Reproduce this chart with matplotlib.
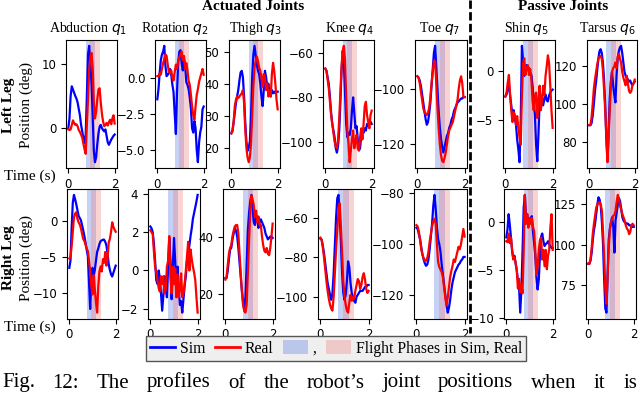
import numpy as np
import matplotlib.pyplot as plt
from matplotlib.lines import Line2D
from matplotlib.patches import Patch

# time axis shared by all profiles (s)
t = np.linspace(0, 2, 41)

# flight phases (s)
sim_flight = (0.75, 1.17)
real_flight = (0.95, 1.38)

titles = ['Abduction $q_1$', 'Rotation $q_2$', 'Thigh $q_3$', 'Knee $q_4$',
          'Toe $q_7$', 'Shin $q_5$', 'Tarsus $q_6$']
row_names = ['Left Leg', 'Right Leg']

# ---- left leg (deg) ----
abd_l_sim = [0, 1.5, 5.0, 6.5, 6.0, 5.5, 5.0, 4.6, 4.0, 3.0,
             2.0, 0.5, -0.5, -1.5, -2.3, -1.0, 5.0, 11.5, 12.8, 10.0,
             7.0, 2.0, -3.5, -5.3, -4.5, -2.5, -0.8, 0.2, 0.5, 0.0,
             -0.3, -0.5, -0.2, -1.2, -2.2, -2.6, -2.2, -1.8, -1.5, -1.2, -1.0]
abd_l_real = [-0.2, -0.3, -0.2, 0.5, 1.2, 0.8, 0.5, 0.6, 0.3, -0.3,
              -0.6, -1.0, -1.5, -2.4, -3.3, -4.0, 0.5, 4.5, 9.0, 11.0,
              11.7, 9.5, 4.0, 1.5, 2.5, 4.5, 6.0, 6.2, 4.0, 2.2,
              1.0, 0.3, 0.5, 0.8, 0.4, 0.9, 1.3, 0.6, 1.5, 2.0, 0.7]
rot_l_sim = [-1.5, -0.8, 0.3, 1.2, 1.6, 1.8, 2.2, 0.8, 0.1, 0.2,
             0.3, 0.6, 0.2, -0.5, -1.0, -2.5, -3.9, -1.0, 1.0, 1.8,
             1.9, 1.0, 0.5, 1.3, 0.8, -0.3, -0.5, -0.8, -1.4, -2.2,
             -3.5, -3.8, -3.0, -3.5, -5.0, -5.85, -4.5, -3.8, -3.4, -2.2, -2.0]
rot_l_real = [0.1, 0.1, 0.3, 0.2, 0.6, 1.0, 1.3, 1.6, 1.5, 0.9,
              0.4, 0.3, 0.5, 0.0, -0.2, 0.4, 0.9, 0.6, 1.2, 1.4,
              1.6, 1.8, 1.2, 1.5, 0.6, 1.0, 0.5, -0.2, -0.5, -1.2,
              -2.0, -2.6, -2.9, -2.0, -1.2, -0.8, -0.3, 0.0, 0.3, 0.6, 0.2]
thigh_l_sim = [24.5, 25.5, 28, 31, 34, 36, 38, 41, 43.5, 44,
               42, 36, 28, 22, 19, 20, 22, 30, 42, 49,
               51.8, 49, 46, 44, 43, 40, 36, 33, 38, 44,
               42, 39, 40, 37, 36, 38, 37, 37.5, 37, 37.5, 37.5]
thigh_l_real = [24.5, 25, 28, 33, 35, 36, 35.5, 36, 36.5, 37,
                38, 34, 26, 20, 17, 15.5, 17, 21, 30, 39,
                45, 47, 48.5, 47, 45, 44, 42, 39, 43, 42,
                38, 40, 36, 38, 36, 43, 46.5, 44, 40, 35, 32]
knee_l_sim = [-67, -68, -71, -74, -80, -87, -92, -95, -98, -103,
              -105, -102, -95, -82, -68, -59, -64, -78, -92, -98,
              -96, -97, -94, -86, -80, -87, -94, -93, -99, -104,
              -103, -97, -95, -96, -94, -95, -92, -93, -92, -91, -92]
knee_l_real = [-67, -68, -72, -76, -82, -88, -92, -96, -100, -102,
               -103, -99, -90, -78, -66, -59, -56.7, -63, -80, -95,
               -101, -109.3, -104, -99, -95, -103, -100, -97, -103, -104,
               -98, -94, -99, -92, -84, -82, -88, -91, -94, -88, -86]
toe_l_sim = [-95.5, -96, -97, -99, -102, -105, -108, -111, -113, -112,
             -109, -105, -99, -93, -87, -84.5, -92, -100, -108, -114,
             -118, -121, -123, -121, -119, -117, -116, -114, -113, -111,
             -110, -108, -107, -106, -105, -104.5, -104, -103.5, -103.5, -103, -103]
toe_l_real = [-95.5, -96, -98, -101, -104, -107, -108.5, -109, -109.5, -108.5,
              -107, -103, -98, -94, -90, -90, -98, -107, -114, -120,
              -124, -126, -126.5, -125, -123, -120, -117, -115, -114, -113,
              -112, -110, -108, -106, -104, -100, -97, -95.5, -98, -103, -103]
shin_l_sim = [-2.6, -2.4, -1.8, -1.4, -2.5, -3.5, -4.6, -4.0, -4.8, -5.5,
              -7.0, -8.0, -9.3, -5.0, 2.57, 1.0, -0.5, 0.2, 0.6, 0.2,
              0.3, -0.2, -0.4, -1.5, -3.0, -4.5, -7.5, -9.2, -6.5, -3.2,
              -2.5, -2.8, -3.5, -2.8, -2.4, -3.0, -3.1, -2.5, -2.2, -2.0, -1.9]
shin_l_real = [-2.6, -2.2, -1.2, -0.4, -2.4, -4.0, -5.2, -4.2, -4.5, -5.5,
               -4.6, -5.8, -6.8, -7.5, -2.5, 0.8, 1.3, -0.4, 0.3, 0.6,
               -0.4, 0.2, -0.8, -3.0, -4.0, -2.5, -2.2, -4.8, -3.0, -1.5,
               -4.0, -3.0, -1.5, -2.5, -0.5, 0.5, 1.6, 0.8, -1.5, -4.0, -5.8]
tarsus_l_sim = [89, 89, 90, 94, 100, 107, 112, 118, 124, 128,
                129, 127, 122, 113, 100, 82, 70, 85, 103, 112,
                117, 110, 105, 101, 115, 124, 128, 130, 130.8, 127,
                122, 117, 115, 114, 113, 112, 112.5, 111, 110, 111, 112]
tarsus_l_real = [89, 89, 93, 100, 108, 113, 117, 121, 124, 125,
                 125.5, 124, 118, 108, 97, 84, 69.5, 82, 97, 110,
                 117, 119, 120, 122, 119, 125, 126.5, 124, 122, 117,
                 114, 112, 110, 115, 111, 107, 106, 107, 110, 111, 113]

# ---- right leg (deg) ----
abd_r_sim = [-6.5, -5.5, -1.0, 2.5, 3.6, 3.0, 2.3, 1.5, 0.7, 0.4,
             0.1, -0.6, -1.3, -2.1, -3.0, -4.0, -4.9, -8.5, -12.2, -8.0,
             -6.5, -7.5, -6.8, -5.5, -4.3, -3.8, -3.2, -2.8, -2.7, -2.6,
             -2.6, -2.9, -3.4, -4.5, -6.0, -6.8, -7.4, -7.7, -7.2, -6.7, -6.2]
abd_r_real = [-5.2, -5.0, -3.5, -1.5, 0.5, 1.0, 1.2, 0.3, -0.2, -0.5,
              -1.0, -1.8, -2.5, -2.8, -3.3, -3.8, -4.2, -5.5, -7.0, -9.0,
              -10.2, -7.5, -9.5, -11.3, -12.7, -9.0, -7.0, -6.3, -7.0, -5.3,
              -5.8, -4.3, -6.2, -5.2, -3.0, -2.5, -1.5, -0.2, -0.8, -1.2, -1.5]
rot_r_sim = [2.3, 2.2, 2.0, 1.4, 0.5, -0.5, -0.7, 0.0, -0.4, -1.2,
             -2.1, -1.3, -0.3, -0.8, -1.4, 0.2, 1.7, 0.5, -1.5, 0.2,
             1.7, 0.5, -1.2, 0.2, -1.0, -1.8, -1.6, -2.2, -1.5, -0.8,
             -0.3, 0.5, 0.9, 1.3, 1.8, 2.2, 2.7, 3.0, 3.3, 3.6, 3.95]
rot_r_real = [2.1, 2.0, 1.9, 1.0, 0.2, -0.1, -0.5, -0.9, -1.1, -0.3,
              -0.7, -0.3, -1.2, -1.0, 0.2, 0.5, 1.8, -0.3, -1.2, 0.2,
              -0.7, 0.1, -1.4, -0.2, -1.4, -1.0, -0.15, -1.4, -1.2, -0.7,
              0.0, 0.75, 1.5, 0.0, 1.1, 0.6, 0.2, -0.1, -0.5, -1.4, -2.2]
thigh_r_sim = [25.5, 25.5, 28, 32, 35.5, 36, 39, 41, 43, 42,
               40, 36, 31, 26, 21, 17, 15, 19, 30, 42,
               48, 52, 54.5, 50, 45, 44, 47, 46, 43, 45,
               46, 45, 44, 43, 41, 40, 39, 39.5, 40, 40, 39.5]
thigh_r_real = [25, 26, 30, 34, 36, 37, 40, 42, 43.5, 44,
                44, 41, 34, 27, 21, 16, 14, 13.5, 16, 27,
                38, 48, 54.3, 53, 51, 47, 49, 45, 47, 44,
                44, 40, 37, 35, 34.5, 36, 34, 33.5, 36, 40, 44.5]
knee_r_sim = [-70.5, -71, -74, -78, -83, -88, -93, -96, -99, -101.5,
              -98, -88, -74, -60, -50, -48.3, -58, -72, -88, -98,
              -101.5, -99, -92, -82, -85, -93, -98, -100, -102, -103,
              -100, -99, -98, -97, -97, -97, -96, -95, -95, -94, -94]
knee_r_real = [-70, -71, -75, -80, -86, -92, -97, -101, -104, -106,
               -107, -100, -88, -76, -66, -57, -52.5, -64, -78, -92,
               -100, -104, -107, -108, -103, -99, -102, -100, -101, -97,
               -94, -91, -92, -96, -94, -90, -88, -91, -96, -98, -97]
toe_r_sim = [-93.5, -94, -96, -98, -101, -104, -106, -107.5, -108.5, -108,
             -106, -102, -97, -92, -85, -80.6, -86, -93, -98, -100,
             -103, -108, -112, -116, -120, -124, -126.9, -125, -122, -118,
             -115, -113, -111, -110, -109, -108, -107.5, -106.5, -106, -105, -105]
toe_r_real = [-92.5, -93, -95, -98, -102, -104, -105.5, -106.5, -106.5, -105.5,
              -103, -99, -96, -93, -91, -90, -92, -100, -107, -109,
              -110, -111, -113, -117, -121, -124, -121, -117, -113, -110.5,
              -108.5, -106, -107, -105, -103, -101, -102, -100, -97, -94, -97]
shin_r_sim = [-1.6, -0.8, 0.8, -0.3, -1.6, -3.0, -3.8, -3.5, -4.3, -5.0,
              -6.0, -6.8, -9.4, -7.0, -3.0, 1.5, 2.8, 0.3, 0.8, 0.0,
              0.4, 0.3, 0.6, -1.0, -2.2, -3.5, -5.8, -7.0, -6.0, -3.5,
              -1.5, -1.2, -2.0, -2.5, -2.3, -2.2, -2.0, -2.3, -2.5, -2.7, -2.7]
shin_r_real = [-2.0, -2.1, -1.2, -2.2, -1.6, -2.9, -3.9, -3.6, -4.2, -5.0,
               -6.9, -5.9, -7.3, -6.5, -7.4, -2.9, 2.8, -0.2, 0.8, -0.6,
               0.4, -0.2, 0.4, -0.5, -1.0, -3.0, -5.5, -4.6, -2.9, -1.9,
               -1.6, -3.9, -2.9, -4.6, -2.9, -4.9, -3.5, -2.9, -0.6, 0.8, -2.9]
tarsus_r_sim = [88, 88, 90, 95, 103, 109, 113, 119, 125, 129.5,
                128, 124, 114, 100, 78, 60, 57.5, 80, 103, 110,
                114, 117, 111, 95, 115, 120, 125, 129, 127, 122,
                117, 115, 114, 113.5, 113, 113, 112, 112, 111.5, 111, 111]
tarsus_r_real = [88, 88, 91, 98, 107, 113, 118, 123, 125, 126,
                 126.5, 125, 121, 108, 92, 72, 63, 80, 98, 109,
                 114, 116, 118, 118.5, 121, 127, 131, 128, 124, 122,
                 119, 117, 115, 112, 110, 109, 106.5, 108, 112, 113, 112]

profiles = [
    [(abd_l_sim, abd_l_real), (rot_l_sim, rot_l_real), (thigh_l_sim, thigh_l_real),
     (knee_l_sim, knee_l_real), (toe_l_sim, toe_l_real), (shin_l_sim, shin_l_real),
     (tarsus_l_sim, tarsus_l_real)],
    [(abd_r_sim, abd_r_real), (rot_r_sim, rot_r_real), (thigh_r_sim, thigh_r_real),
     (knee_r_sim, knee_r_real), (toe_r_sim, toe_r_real), (shin_r_sim, shin_r_real),
     (tarsus_r_sim, tarsus_r_real)],
]
yticks = [
    [[0, 10], [-5, -2.5, 0], [20, 30, 40, 50], [-100, -80, -60], [-120, -100], [-5, 0], [80, 100, 120]],
    [[-10, -5, 0], [-2, 0, 2, 4], [20, 40], [-100, -80, -60], [-120, -100, -80], [-10, -5, 0], [75, 100, 125]],
]

W, H = 640, 393
serif = 'Liberation Serif'

# axes boxes in pixels: (left, right) per column, (top, bottom) per row
cols = [[(66, 117), (155, 206), (229, 280), (323, 374), (415, 467), (503, 555), (587, 637)],
        [(67, 118), (148, 200), (223, 275), (318, 371), (414, 467), (504, 555), (586, 636)]]
rows = [(40, 168), (189, 318.5)]
title_x = [0.44, 0.38, 0.52, 0.53, 0.48, 0.45, 0.40]

fig = plt.figure(figsize=(W / 100, H / 100), dpi=100)

for r in range(2):
    top, bot = rows[r]
    for c in range(7):
        x0, x1 = cols[r][c]
        ax = fig.add_axes([x0 / W, 1 - bot / H, (x1 - x0) / W, (bot - top) / H])
        ax.axvspan(*sim_flight, color='royalblue', alpha=0.3, lw=0)
        ax.axvspan(*real_flight, color='lightcoral', alpha=0.35, lw=0)
        sim, real = profiles[r][c]
        ax.plot(t, sim, color='blue', lw=1.6)
        ax.plot(t, real, color='red', lw=1.6)
        ax.set_xticks([0, 2])
        ax.set_yticks(yticks[r][c])
        ax.tick_params(labelsize=8.5)
        if r == 0:
            ax.set_title(titles[c], family=serif, fontsize=10, x=title_x[c])

# headers
fig.text(253 / W, 1 - 7 / H, 'Actuated Joints', family=serif, fontsize=11,
         weight='bold', ha='center', va='center')
fig.text(563 / W, 1 - 7 / H, 'Passive Joints', family=serif, fontsize=11,
         weight='bold', ha='center', va='center')

# row labels
for name, yc, yt in zip(row_names, [105, 258], [176, 327]):
    fig.text(9 / W, 1 - yc / H, name, family=serif, fontsize=11, weight='bold',
             rotation=90, ha='center', va='center')
    fig.text(26 / W, 1 - yc / H, 'Position (deg)', family=serif, fontsize=11,
             rotation=90, ha='center', va='center')
    fig.text(30 / W, 1 - yt / H, 'Time (s)', family=serif, fontsize=11,
             ha='center', va='center')

# separator between actuated and passive joints
fig.add_artist(Line2D([470 / W, 470 / W], [1.0, 1 - 333 / H], color='black',
                      lw=2, linestyle=(0, (3, 1.2))))

handles = [Line2D([], [], color='blue', lw=2), Line2D([], [], color='red', lw=2),
           Patch(facecolor='royalblue', alpha=0.3), Patch(facecolor='lightcoral', alpha=0.35)]
labels = ['Sim', 'Real', ',', 'Flight Phases in Sim, Real']
fig.legend(handles, labels, loc='center', bbox_to_anchor=(336 / W, 1 - 348.5 / H),
           ncol=4, prop={'family': serif, 'size': 11.3}, fancybox=False,
           facecolor='#efefef', edgecolor='#555555', framealpha=1,
           handlelength=1.6, handleheight=1.0, handletextpad=0.3,
           columnspacing=0.6, borderpad=0.25)

# caption line (justified across the width)
words = 'Fig. 12: The profiles of the robot’s joint positions when it is'.split()
texts = [fig.text(0, 5.5 / H, w, family=serif, fontsize=15, va='baseline') for w in words]
rend = fig.canvas.get_renderer()
widths = [tx.get_window_extent(rend).width for tx in texts]
gap = (637 - 2 - sum(widths)) / (len(words) - 1)
x = 2
for tx, wd in zip(texts, widths):
    tx.set_x(x / W)
    x += wd + gap

fig.savefig('out.png', dpi=100)
